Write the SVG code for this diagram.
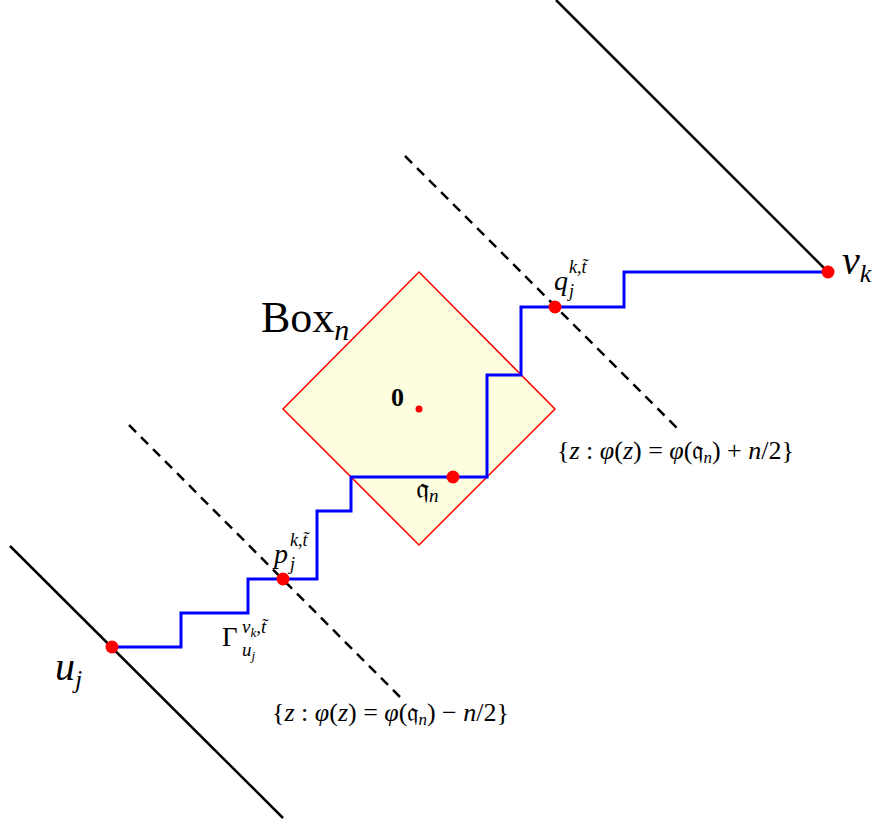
<svg xmlns="http://www.w3.org/2000/svg" width="886" height="824" viewBox="0 0 886 824">
<style>
.solid{stroke:#000;stroke-width:2.5;fill:none}
.dash{stroke:#000;stroke-width:2.5;fill:none;stroke-dasharray:10 7}
.path{stroke:#0000ff;stroke-width:3;fill:none}
.dot{fill:#ff0000}
text{font-family:"Liberation Serif","DejaVu Serif",serif;fill:#000}
.it{font-style:italic}
</style>
<rect width="886" height="824" fill="#fff"/>
<g id="box">
<polygon points="419,272 555,409 419,545 283,409" fill="#fdfde0" stroke="#ff0000" stroke-width="1.5"/>
</g>
<g id="connectors">
<line class="solid" x1="10" y1="546" x2="283" y2="818"/>
<line class="solid" x1="556" y1="0" x2="828" y2="272"/>
<line class="dash" x1="129" y1="425" x2="400" y2="697"/>
<line class="dash" x1="405" y1="156" x2="677" y2="428"/>
<polyline class="path" points="112,647 181,647 181,613 248,613 248,579 317,579 317,511 351,511 351,477 487,477 487,375 521,375 521,307 624,307 624,272 828,272"/>
</g>
<g id="uj"><circle class="dot" cx="112" cy="647" r="6.5"/><text x="55" y="680" font-size="40" class="it">u<tspan font-size="26" dy="8">j</tspan></text></g>
<g id="vk"><circle class="dot" cx="828" cy="272" r="6.5"/><text x="842" y="274" font-size="40" class="it">v<tspan font-size="26" dy="8">k</tspan></text></g>
<g id="p"><circle class="dot" cx="283" cy="579" r="6.5"/>
<text x="274" y="563" font-size="28" class="it">p</text>
<text x="290" y="546" font-size="18" class="it">k,t&#771;</text>
<text x="290" y="570" font-size="18" class="it">j</text></g>
<g id="q"><circle class="dot" cx="555" cy="307" r="6.5"/>
<text x="554" y="290" font-size="28" class="it">q</text>
<text x="569" y="273" font-size="18" class="it">k,t&#771;</text>
<text x="569" y="297" font-size="18" class="it">j</text></g>
<g id="qn"><circle class="dot" cx="453" cy="477" r="6.5"/>
<text x="416" y="498" font-size="30">𝔮<tspan font-size="19" dy="4" class="it">n</tspan></text></g>
<g id="origin"><circle class="dot" cx="419" cy="409" r="3.5"/>
<text x="391" y="406" font-size="26" font-weight="bold">0</text></g>
<g id="boxlabel"><text x="261" y="332" font-size="44">Box<tspan font-size="30" dy="8" class="it">n</tspan></text></g>
<g id="gamma">
<text x="222" y="646" font-size="27">Γ</text>
<text x="242" y="633" font-size="19" class="it">v<tspan font-size="13" dy="4">k</tspan><tspan dy="-4">,t&#771;</tspan></text>
<text x="242" y="656" font-size="19" class="it">u<tspan font-size="13" dy="4">j</tspan></text>
</g>
<g id="upperset"><text x="557" y="459" font-size="26">{<tspan class="it">z</tspan> : <tspan class="it">φ</tspan>(<tspan class="it">z</tspan>) = <tspan class="it">φ</tspan>(𝔮<tspan font-size="17" dy="4" class="it">n</tspan><tspan dy="-4">) + </tspan><tspan class="it">n</tspan>/2}</text></g>
<g id="lowerset"><text x="272" y="721" font-size="26">{<tspan class="it">z</tspan> : <tspan class="it">φ</tspan>(<tspan class="it">z</tspan>) = <tspan class="it">φ</tspan>(𝔮<tspan font-size="17" dy="4" class="it">n</tspan><tspan dy="-4">) − </tspan><tspan class="it">n</tspan>/2}</text></g>
</svg>
